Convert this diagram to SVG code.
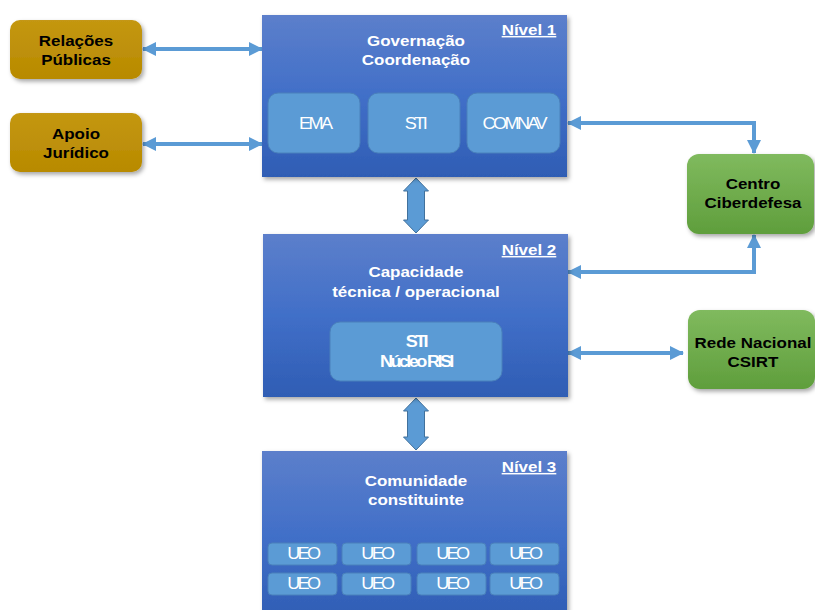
<svg xmlns="http://www.w3.org/2000/svg" width="815" height="610" viewBox="0 0 815 610">
  <defs>
    <linearGradient id="gBlue" x1="0" y1="0" x2="0" y2="1">
      <stop offset="0" stop-color="#5c7fcb"/>
      <stop offset="0.5" stop-color="#416fc8"/>
      <stop offset="1" stop-color="#2f5db4"/>
    </linearGradient>
    <linearGradient id="gGold" x1="0" y1="0" x2="0" y2="1">
      <stop offset="0" stop-color="#c49712"/>
      <stop offset="1" stop-color="#b88a00"/>
    </linearGradient>
    <linearGradient id="gGreen" x1="0" y1="0" x2="0" y2="1">
      <stop offset="0" stop-color="#80ba5e"/>
      <stop offset="1" stop-color="#5f9e3c"/>
    </linearGradient>
    <filter id="shadow" x="-10%" y="-10%" width="125%" height="130%">
      <feDropShadow dx="2" dy="2.5" stdDeviation="2" flood-color="#000" flood-opacity="0.35"/>
    </filter>
    <marker id="ah" viewBox="0 0 14 14" refX="13" refY="7" markerWidth="14" markerHeight="14" markerUnits="userSpaceOnUse" orient="auto-start-reverse">
      <path d="M0,0 L14,7 L0,14 Z" fill="#5b9bd5"/>
    </marker>
  </defs>
  <style>
    text { font-family: "Liberation Sans", Arial, sans-serif; text-anchor: middle; transform-box: fill-box; transform-origin: center; transform: scaleX(1.13); }
    .ttl { font-size: 15px; font-weight: bold; fill: #ffffff; }
    .lvl { font-size: 15px; font-weight: bold; fill: #ffffff; text-decoration: underline; }
    .blk { font-size: 15px; font-weight: bold; fill: #000000; }
    .in { font-size: 16px; fill: #ffffff; letter-spacing: -2.3px; }
    .inb { font-size: 16px; font-weight: bold; fill: #ffffff; letter-spacing: -2.3px; }
    .level { fill: url(#gBlue); filter: url(#shadow); }
    .sub { fill: #5b9bd5; stroke: #4a80bb; stroke-width: 1; }
    .gold { fill: url(#gGold); filter: url(#shadow); }
    .green { fill: url(#gGreen); filter: url(#shadow); }
    .link { fill: none; stroke: #5b9bd5; stroke-width: 4; marker-start: url(#ah); marker-end: url(#ah); }
    .fat { fill: #5b9bd5; stroke: #41719c; stroke-width: 1; }
  </style>

  <!-- connectors -->
  <g id="connectors">
    <path class="link" d="M143,49 H262"/>
    <path class="link" d="M143,144 H262"/>
    <path class="link" d="M568,123 H754 V153"/>
    <path class="link" d="M568,272 H754 V235"/>
    <path class="link" d="M568,353 H683"/>
    <path class="fat" d="M416,178 L428.5,191 L424.5,191 L424.5,220 L428.5,220 L416,233 L403.5,220 L407.5,220 L407.5,191 L403.5,191 Z"/>
    <path class="fat" d="M416,398 L428.5,411 L424.5,411 L424.5,437 L428.5,437 L416,450 L403.5,437 L407.5,437 L407.5,411 L403.5,411 Z"/>
  </g>

  <!-- side nodes -->
  <g id="relacoes">
    <rect class="gold" x="10" y="20" width="132" height="59" rx="10"/>
    <text class="blk" x="76" y="46">Relações</text>
    <text class="blk" x="76" y="65">Públicas</text>
  </g>
  <g id="apoio">
    <rect class="gold" x="10" y="113" width="132" height="59" rx="10"/>
    <text class="blk" x="76" y="139">Apoio</text>
    <text class="blk" x="76" y="158">Jurídico</text>
  </g>
  <g id="centro">
    <rect class="green" x="687" y="154" width="127" height="80" rx="12"/>
    <text class="blk" x="753" y="189">Centro</text>
    <text class="blk" x="753" y="208">Ciberdefesa</text>
  </g>
  <g id="rede">
    <rect class="green" x="688" y="310" width="127" height="79" rx="12"/>
    <text class="blk" x="753" y="348">Rede Nacional</text>
    <text class="blk" x="753" y="367">CSIRT</text>
  </g>

  <!-- level 1 -->
  <g id="nivel1">
    <rect class="level" x="262" y="15" width="305" height="162"/>
    <text class="lvl" x="529" y="35">Nível 1</text>
    <text class="ttl" x="416" y="46">Governação</text>
    <text class="ttl" x="416" y="65">Coordenação</text>
    <rect class="sub" x="268" y="93" width="92" height="60" rx="10"/>
    <text class="in" x="315" y="129">EMA</text>
    <rect class="sub" x="368" y="93" width="92" height="60" rx="10"/>
    <text class="in" x="415" y="129">STI</text>
    <rect class="sub" x="467" y="93" width="93" height="60" rx="10"/>
    <text class="in" x="514" y="129">COMNAV</text>
  </g>

  <!-- level 2 -->
  <g id="nivel2">
    <rect class="level" x="263" y="234" width="305" height="163"/>
    <text class="lvl" x="529" y="255">Nível 2</text>
    <text class="ttl" x="416" y="277">Capacidade</text>
    <text class="ttl" x="416" y="297">técnica / operacional</text>
    <rect class="sub" x="330" y="322" width="172" height="59" rx="10"/>
    <text class="inb" x="416" y="347">STI</text>
    <text class="inb" x="416" y="367">Núcleo RISI</text>
  </g>

  <!-- level 3 -->
  <g id="nivel3">
    <rect class="level" x="262" y="451" width="305" height="170"/>
    <text class="lvl" x="529" y="472">Nível 3</text>
    <text class="ttl" x="416" y="486">Comunidade</text>
    <text class="ttl" x="416" y="505">constituinte</text>
    <g id="ueo">
      <rect class="sub" x="268" y="543" width="69" height="22" rx="4"/>
      <rect class="sub" x="342" y="543" width="69" height="22" rx="4"/>
      <rect class="sub" x="417" y="543" width="69" height="22" rx="4"/>
      <rect class="sub" x="490" y="543" width="69" height="22" rx="4"/>
      <rect class="sub" x="268" y="573" width="69" height="22" rx="4"/>
      <rect class="sub" x="342" y="573" width="69" height="22" rx="4"/>
      <rect class="sub" x="417" y="573" width="69" height="22" rx="4"/>
      <rect class="sub" x="490" y="573" width="69" height="22" rx="4"/>
      <text class="in" x="303" y="559">UEO</text>
      <text class="in" x="377" y="559">UEO</text>
      <text class="in" x="452" y="559">UEO</text>
      <text class="in" x="525" y="559">UEO</text>
      <text class="in" x="303" y="589">UEO</text>
      <text class="in" x="377" y="589">UEO</text>
      <text class="in" x="452" y="589">UEO</text>
      <text class="in" x="525" y="589">UEO</text>
    </g>
  </g>
</svg>
